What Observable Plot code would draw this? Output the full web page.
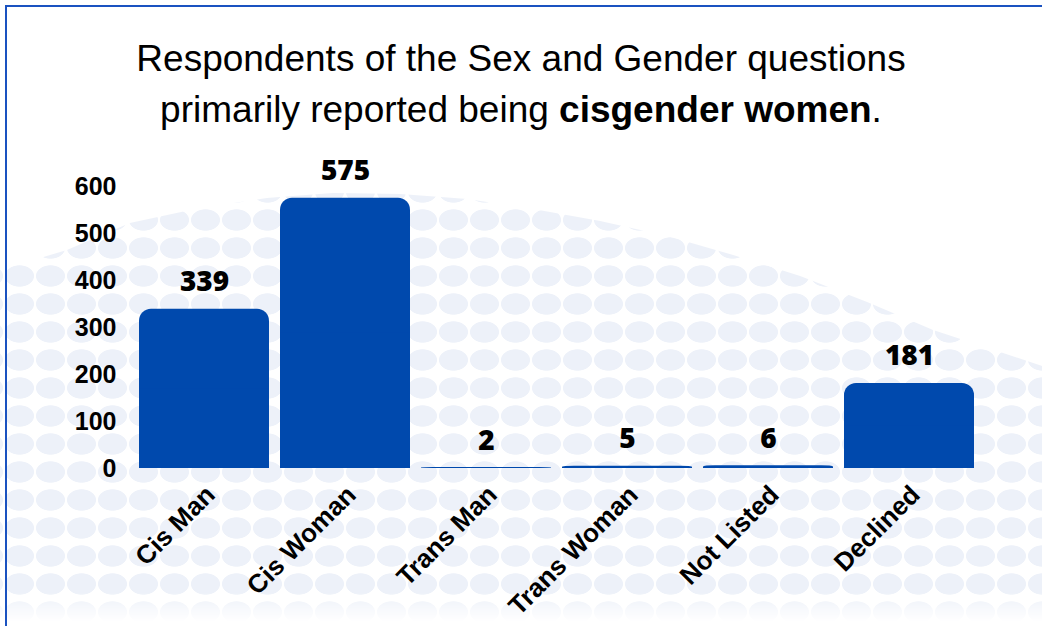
<!DOCTYPE html>
<html>
<head>
<meta charset="utf-8">
<script src="https://cdn.jsdelivr.net/npm/d3@7"></script>
<script src="https://cdn.jsdelivr.net/npm/@observablehq/plot@0.6"></script>
<style>
  html, body { margin: 0; padding: 0; background: #fff; }
  #wrap { position: relative; width: 1042px; height: 626px; overflow: hidden; background: #fff; }
  #dots {
    position: absolute; left: 0; top: 0; width: 1042px; height: 626px;
    background-image: radial-gradient(ellipse 15px 11px at 50% 50%, #edf1f9 94%, rgba(237,241,249,0) 100%);
    background-size: 31px 28px;
    background-position: 4px 10px;
    clip-path: polygon(0px 270px, 67px 250px, 130px 223px, 200px 208px, 267px 198px, 333px 193px,
      400px 194px, 467px 199px, 533px 209px, 600px 221px, 667px 236px, 733px 255px, 800px 276px,
      867px 302px, 933px 330px, 1000px 352px, 1042px 366px, 1042px 626px, 0px 626px);
    -webkit-mask-image: linear-gradient(to bottom, #000 0, #000 592px, rgba(0,0,0,0) 622px);
    mask-image: linear-gradient(to bottom, #000 0, #000 592px, rgba(0,0,0,0) 622px);
  }
  #frame { position: absolute; left: 5px; top: 5px; width: 1100px; height: 700px;
    border-top: 2.5px solid #1a52c0; border-left: 2.5px solid #1a52c0; box-sizing: border-box; }
  #title { position: absolute; left: 0; width: 1042px; top: 33px; text-align: center;
    font-family: "Liberation Sans", Arial, sans-serif; font-size: 37px; line-height: 51px; color: #000; }
  #chart { position: absolute; left: 0; top: 140px; }
  #chart svg text { font-family: "Liberation Sans", Arial, sans-serif; }
  #chart svg g.vals text { font-family: "Open Sans", sans-serif; }
</style>
</head>
<body>
<div id="wrap">
  <div id="dots"></div>
  <div id="frame"></div>
  <div id="title">Respondents of the Sex and Gender questions<br>primarily reported being <b>cisgender women</b>.</div>
  <div id="chart"></div>
</div>
<script>
const categories = ["Cis Man", "Cis Woman", "Trans Man", "Trans Woman", "Not Listed", "Declined"];
const counts = [339, 575, 2, 5, 6, 181];
const yTicks = [0, 100, 200, 300, 400, 500, 600];

const data = categories.map((c, i) => ({category: c, value: counts[i]}));
const barColor = "#0049ad";

const chart = Plot.plot({
  width: 1042,
  height: 486,
  marginTop: 46,
  marginBottom: 158,
  marginLeft: 126,
  marginRight: 55,
  style: {background: "transparent", color: "#000", overflow: "visible"},
  x: {domain: categories, padding: 0.075, label: null},
  y: {domain: [0, 600], label: null},
  marks: [
    Plot.axisY({ticks: yTicks, tickSize: 0, tickPadding: 10, fontSize: 25, fontWeight: "bold", label: null}),
    Plot.axisX({tickRotate: -45, tickSize: 0, tickPadding: 0, fontSize: 26, fontWeight: "bold",
      label: null, dx: 6, dy: 22}),
    Plot.barY(data, {x: "category", y: "value", fill: barColor, rx: 12}),
    Plot.barY(data, {x: "category", y1: 0, y2: d => d.value / 2, fill: barColor}),
    Plot.text(data, {x: "category", y: "value", text: d => String(d.value), dy: -27,
      fontSize: 28, fontWeight: 800, fill: "#000", className: "vals"})
  ]
});
document.getElementById("chart").appendChild(chart);
</script>
</body>
</html>
